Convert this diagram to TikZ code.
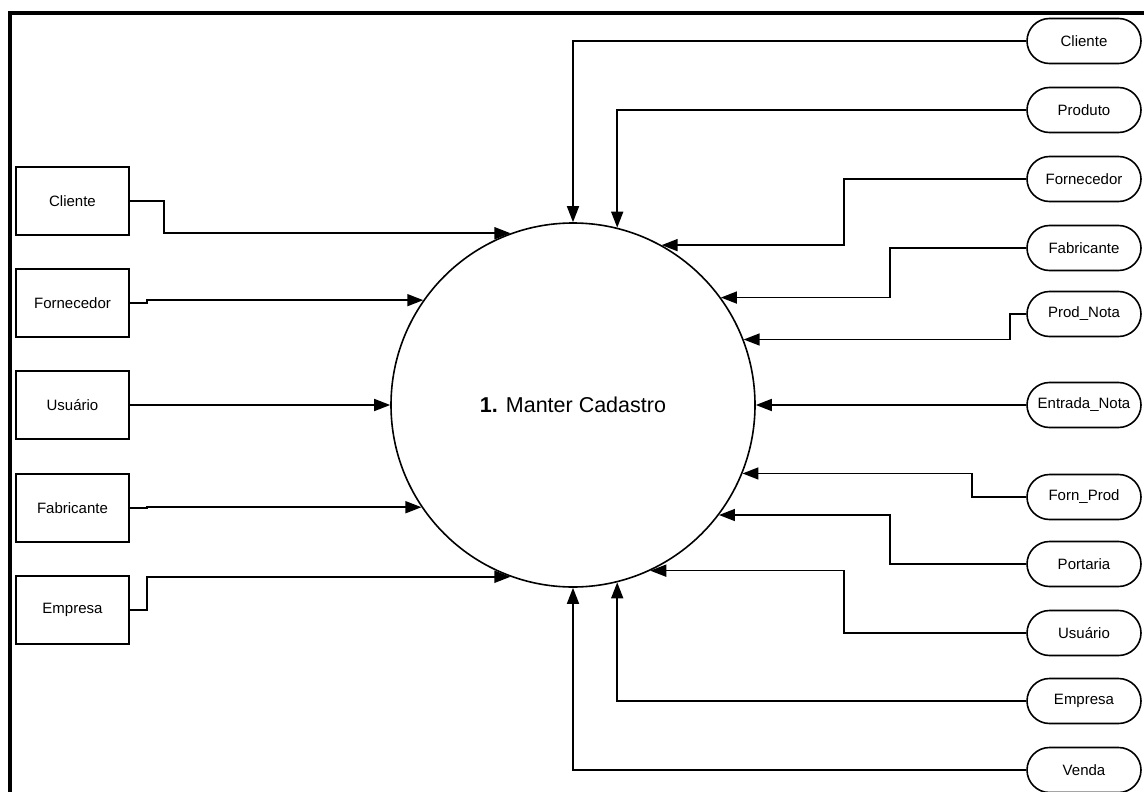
\documentclass[tikz,border=0pt]{standalone}
\usepackage{fontspec}
\setmainfont{Liberation Sans}
\usetikzlibrary{arrows.meta}
\tikzset{
  ent/.style={draw, line width=1.6pt, minimum width=113pt, minimum height=68pt, inner sep=0pt, font=\fontsize{15}{18}\selectfont},
  store/.style={draw, rounded corners=22.5pt, line width=1.6pt, minimum width=114pt, minimum height=45pt, inner sep=0pt, font=\fontsize{15}{18}\selectfont},
  proc/.style={circle, draw, line width=1.6pt, minimum size=364pt, inner sep=0pt, font=\fontsize{21.5}{24}\selectfont},
  flow/.style={line width=1.6pt, -{Triangle[length=16pt,width=12pt]}},
  frame/.style={line width=4pt, line join=miter}
}
\begin{document}
\begin{tikzpicture}[x=1pt,y=-1pt]
\useasboundingbox (0,0) rectangle (1144,792);
\draw[frame] (10,800) -- (10,13) -- (1150,13);

\node[proc] (P) at (573,405) {\textbf{1.} Manter Cadastro};

% left entities
\node[ent] (lC)  at (72.5,201) {Cliente};
\node[ent] (lF)  at (72.5,303) {Fornecedor};
\node[ent] (lU)  at (72.5,405) {Usuário};
\node[ent] (lFa) at (72.5,508) {Fabricante};
\node[ent] (lE)  at (72.5,610) {Empresa};

% right stores
\node[store] (rC)  at (1084,41)  {Cliente};
\node[store] (rP)  at (1084,110) {Produto};
\node[store] (rFo) at (1084,179) {Fornecedor};
\node[store] (rFa) at (1084,248) {Fabricante};
\node[store] (rPN) at (1084,314) {Prod\_Nota};
\node[store] (rEN) at (1084,405) {Entrada\_Nota};
\node[store] (rFP) at (1084,497) {Forn\_Prod};
\node[store] (rPo) at (1084,564) {Portaria};
\node[store] (rU)  at (1084,633) {Usuário};
\node[store] (rE)  at (1084,701) {Empresa};
\node[store] (rV)  at (1084,770) {Venda};

% left flows
\draw[flow] (lC.east) -- ++(34,0) |- (P.110);
\draw[flow] (lF.east) -- ++(17,0) |- (P.145.9);
\draw[flow] (lU.east) -- (P.west);
\draw[flow] (lFa.east) -- ++(17,0) |- (P.214.5);
\draw[flow] (lE.east) -- ++(17,0) |- (P.250);

% right flows
\draw[flow] (rC.west) -| (P.north);
\draw[flow] (rP.west) -| (P.76);
\draw[flow] (rFo.west) -- ++(-182,0) |- (P.61.5);
\draw[flow] (rFa.west) -- ++(-136,0) |- (P.36.4);
\draw[flow] (rPN.west) -- ++(-16,0) |- (P.21.3);
\draw[flow] (rEN.west) -- (P.east);
\draw[flow] (rFP.west) -- ++(-54,0) |- (P.338.4);
\draw[flow] (rPo.west) -- ++(-136,0) |- (P.323.6);
\draw[flow] (rU.west) -- ++(-182,0) |- (P.295.7);
\draw[flow] (rE.west) -| (P.284);
\draw[flow] (rV.west) -| (P.south);
\end{tikzpicture}
\end{document}
